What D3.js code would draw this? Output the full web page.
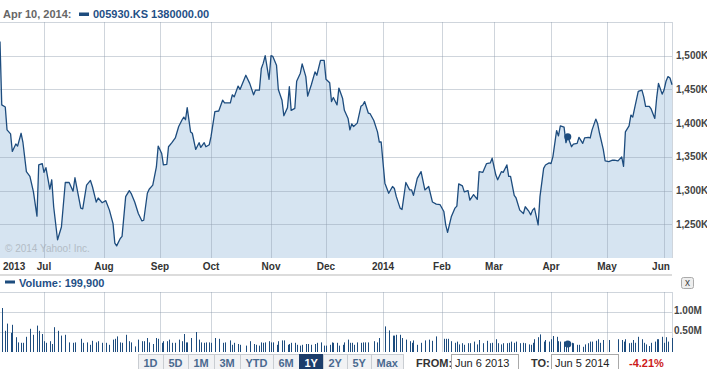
<!DOCTYPE html>
<html>
<head>
<meta charset="utf-8">
<script src="https://cdn.jsdelivr.net/npm/d3@7"></script>
<style>
  body { margin: 0; background: #fff; }
  svg { display: block; font-family: "Liberation Sans", Arial, sans-serif; }
</style>
</head>
<body>
<div id="chart"></div>
<script>
// daily closes (thousand won) and volumes (thousand shares)
const dates = [
  "2013-06-06","2013-06-07","2013-06-09","2013-06-10","2013-06-12","2013-06-13","2013-06-15","2013-06-16","2013-06-18","2013-06-19",
  "2013-06-21","2013-06-23","2013-06-25","2013-06-27","2013-06-28","2013-06-30","2013-07-01","2013-07-02","2013-07-04","2013-07-05",
  "2013-07-06","2013-07-08","2013-07-10","2013-07-12","2013-07-14","2013-07-16","2013-07-17","2013-07-20","2013-07-21","2013-07-23",
  "2013-07-25","2013-07-26","2013-07-28","2013-07-29","2013-07-31","2013-08-02","2013-08-04","2013-08-06","2013-08-07","2013-08-08",
  "2013-08-10","2013-08-11","2013-08-13","2013-08-15","2013-08-16","2013-08-18","2013-08-20","2013-08-22","2013-08-23","2013-08-25",
  "2013-08-26","2013-08-28","2013-08-30","2013-08-31","2013-09-02","2013-09-03","2013-09-05","2013-09-06","2013-09-08","2013-09-10",
  "2013-09-12","2013-09-14","2013-09-15","2013-09-16","2013-09-17","2013-09-19","2013-09-20","2013-09-22","2013-09-24","2013-09-25",
  "2013-09-27","2013-09-28","2013-09-30","2013-10-01","2013-10-03","2013-10-05","2013-10-07","2013-10-08","2013-10-11","2013-10-12",
  "2013-10-13","2013-10-15","2013-10-16","2013-10-19","2013-10-21","2013-10-23","2013-10-24","2013-10-26","2013-10-27","2013-10-28",
  "2013-10-29","2013-10-31","2013-11-01","2013-11-02","2013-11-04","2013-11-05","2013-11-07","2013-11-08","2013-11-10","2013-11-11",
  "2013-11-12","2013-11-14","2013-11-15","2013-11-17","2013-11-18","2013-11-20","2013-11-21","2013-11-23","2013-11-25","2013-11-26",
  "2013-11-28","2013-11-30","2013-12-01","2013-12-03","2013-12-04","2013-12-05","2013-12-07","2013-12-08","2013-12-10","2013-12-11",
  "2013-12-13","2013-12-14","2013-12-15","2013-12-16","2013-12-18","2013-12-20","2013-12-21","2013-12-22","2013-12-24","2013-12-25",
  "2013-12-27","2013-12-29","2013-12-30","2013-12-31","2014-01-02","2014-01-04","2014-01-06","2014-01-07","2014-01-08","2014-01-10",
  "2014-01-11","2014-01-13","2014-01-15","2014-01-16","2014-01-17","2014-01-19","2014-01-21","2014-01-23","2014-01-25","2014-01-27",
  "2014-01-29","2014-01-31","2014-02-02","2014-02-03","2014-02-04","2014-02-06","2014-02-08","2014-02-09","2014-02-10","2014-02-12",
  "2014-02-13","2014-02-15","2014-02-16","2014-02-18","2014-02-20","2014-02-21","2014-02-23","2014-02-25","2014-02-27","2014-02-28",
  "2014-03-02","2014-03-03","2014-03-05","2014-03-06","2014-03-08","2014-03-09","2014-03-10","2014-03-12","2014-03-13","2014-03-15",
  "2014-03-17","2014-03-18","2014-03-20","2014-03-21","2014-03-22","2014-03-23","2014-03-25","2014-03-26","2014-03-28","2014-03-29",
  "2014-03-31","2014-04-01","2014-04-02","2014-04-04","2014-04-05","2014-04-06","2014-04-08","2014-04-09","2014-04-10","2014-04-12",
  "2014-04-13","2014-04-15","2014-04-16","2014-04-18","2014-04-19","2014-04-21","2014-04-22","2014-04-23","2014-04-25","2014-04-26",
  "2014-04-27","2014-04-29","2014-04-30","2014-05-02","2014-05-04","2014-05-05","2014-05-07","2014-05-09","2014-05-10","2014-05-11",
  "2014-05-13","2014-05-14","2014-05-15","2014-05-16","2014-05-18","2014-05-20","2014-05-21","2014-05-22","2014-05-24","2014-05-25",
  "2014-05-27","2014-05-28","2014-05-29","2014-05-31","2014-06-01","2014-06-02","2014-06-03","2014-06-04","2014-06-05"
];
const closeK = [
  1521,1427,1424,1390,1384,1358,1369,1366,1385,1372,
  1328,1321,1298,1262,1338,1340,1327,1334,1302,1316,
  1276,1227,1246,1312,1312,1299,1319,1274,1273,1308,
  1315,1306,1283,1289,1282,1285,1271,1251,1222,1218,
  1229,1232,1291,1300,1296,1283,1266,1255,1256,1296,
  1302,1308,1335,1366,1355,1338,1339,1365,1371,1378,
  1395,1405,1409,1405,1423,1387,1385,1361,1371,1364,
  1371,1365,1368,1380,1417,1418,1434,1430,1430,1442,
  1439,1455,1450,1471,1459,1442,1449,1449,1481,1489,
  1500,1465,1500,1499,1486,1450,1434,1411,1423,1454,
  1419,1422,1462,1474,1488,1469,1440,1457,1476,1471,
  1493,1493,1465,1460,1432,1438,1427,1452,1437,1419,
  1407,1390,1399,1395,1400,1425,1427,1432,1415,1414,
  1404,1387,1372,1372,1311,1296,1306,1303,1291,1274,
  1272,1312,1301,1301,1293,1318,1328,1301,1306,1283,
  1280,1279,1269,1249,1238,1261,1274,1277,1310,1307,
  1298,1300,1286,1294,1287,1328,1327,1340,1341,1348,
  1323,1316,1328,1327,1338,1321,1321,1293,1289,1271,
  1266,1276,1269,1264,1271,1274,1249,1291,1333,1338,
  1341,1340,1350,1389,1381,1396,1394,1371,1380,1365,
  1369,1370,1379,1370,1378,1379,1378,1390,1406,1399,
  1385,1361,1344,1343,1345,1345,1344,1350,1336,1387,
  1396,1412,1409,1422,1447,1449,1439,1425,1425,1421,
  1407,1437,1459,1443,1449,1462,1469,1467,1457
];
const volumeK = [
  0,1100,530,710,480,680,370,240,230,230,
  380,580,430,660,530,450,270,230,270,200,
  620,530,410,430,240,230,240,330,230,240,
  180,280,240,270,230,230,180,310,330,390,
  240,230,430,270,240,140,310,270,270,350,
  240,200,350,330,230,270,270,310,230,230,
  310,270,450,240,240,350,0,500,310,240,
  230,240,240,230,350,330,230,240,290,180,
  230,200,180,160,270,200,180,160,240,230,
  240,270,240,240,180,270,290,290,180,200,
  230,230,180,160,180,200,200,180,200,230,
  240,160,160,180,240,230,230,160,180,240,
  310,230,230,180,240,230,240,240,240,0,
  270,240,350,0,640,540,410,410,430,430,
  350,310,270,230,290,180,230,290,310,280,
  390,0,330,330,330,270,230,260,190,220,
  180,220,220,260,190,300,220,280,220,230,
  320,220,190,220,220,230,260,230,260,220,
  230,220,190,180,230,320,370,440,260,300,
  260,320,400,380,270,260,260,230,199.9,230,
  220,180,180,130,190,220,260,260,280,320,
  230,300,0,300,0,0,320,300,260,320,
  220,230,300,230,380,320,230,190,150,230,
  260,320,320,380,230,370,260,0,350
];

const monthTicks = ["2013-07-01","2013-08-01","2013-09-01","2013-10-01","2013-11-01","2013-12-01",
  "2014-01-01","2014-02-01","2014-03-01","2014-04-01","2014-05-01","2014-06-01"];
const monthLabels = ["Jul","Aug","Sep","Oct","Nov","Dec","2014","Feb","Mar","Apr","May","Jun"];
const startLabel = "2013";
const priceTicks = [1250000, 1300000, 1350000, 1400000, 1450000, 1500000];
const volumeTicks = [500000, 1000000];
const rangeButtons = ["1D","5D","1M","3M","YTD","6M","1Y","2Y","5Y","Max"];
const activeRange = "1Y";
const symbol = "005930.KS";
const hoverDate = "2014-04-10";
const fromText = "Jun 6 2013";
const toText = "Jun 5 2014";
const changePct = -4.21;

const width = 707, height = 369;
const plotRight = 672;
const priceTop = 22, priceBottom = 258;
const volTop = 292, volBottom = 352;
const blue = '#1d4c7e';
const gridColor = 'rgba(140,155,172,0.42)';

const parse = d3.timeParse('%Y-%m-%d');
const data = dates.map((d, i) => ({ date: parse(d), close: closeK[i] * 1000, volume: volumeK[i] * 1000 }));
const tickDates = monthTicks.map(parse);
const hover = data.find(d => d.date.getTime() === parse(hoverDate).getTime());

const svg = d3.select('#chart')
  .append('svg')
  .attr('width', width)
  .attr('height', height);

// months are spaced by trading days on the Yahoo axis, so the domain is piecewise
const x = d3.scaleTime()
  .domain([data[0].date, ...tickDates, data[data.length - 1].date])
  .range([0, 44, 104, 160, 211, 271, 326, 383, 442, 494, 551, 607, 664, plotRight]);

const y = d3.scaleLinear()
  .domain([1200000, 1550000])
  .range([priceBottom, priceTop]);

const yv = d3.scaleLinear()
  .domain([0, 1500000])
  .range([volBottom, volTop]);

// header
svg.append('text')
  .attr('x', 3).attr('y', 18)
  .style('font-size', '11px').style('font-weight', 'bold').style('fill', '#666')
  .text(d3.timeFormat('%b %-d, %Y:')(hover.date));
svg.append('rect')
  .attr('x', 79).attr('y', 12.5).attr('width', 10).attr('height', 3.5)
  .attr('fill', blue);
svg.append('text')
  .attr('x', 93).attr('y', 18)
  .style('font-size', '11px').style('font-weight', 'bold').style('fill', '#1f4f86')
  .text(symbol + ' ' + d3.format('.2f')(hover.close));

// price area
svg.append('path')
  .datum(data)
  .attr('fill', '#d6e4f1')
  .attr('d', d3.area().x(d => x(d.date)).y0(priceBottom).y1(d => y(d.close)));

svg.append('text')
  .attr('x', 5).attr('y', 252)
  .style('font-size', '10px').style('fill', '#b3bcc6')
  .text('\u00a9 2014 Yahoo! Inc.');

// grid
const grid = svg.append('g').attr('stroke', gridColor).attr('shape-rendering', 'crispEdges');
grid.selectAll('.hgrid')
  .data(priceTicks.concat([1550000]))
  .enter().append('line')
  .attr('x1', 0).attr('x2', plotRight)
  .attr('y1', d => Math.round(y(d)) + 0.5).attr('y2', d => Math.round(y(d)) + 0.5);
grid.selectAll('.vgrid')
  .data(tickDates.concat([data[data.length - 1].date]))
  .enter().append('line')
  .attr('x1', d => Math.round(x(d)) + 0.5).attr('x2', d => Math.round(x(d)) + 0.5)
  .attr('y1', priceTop).attr('y2', priceBottom);

// price line
svg.append('path')
  .datum(data)
  .attr('fill', 'none')
  .attr('stroke', blue)
  .attr('stroke-width', 1.3)
  .attr('stroke-linejoin', 'round')
  .attr('d', d3.line().x(d => x(d.date)).y(d => y(d.close)));

svg.append('circle')
  .attr('cx', x(hover.date)).attr('cy', y(hover.close)).attr('r', 3.5)
  .attr('fill', blue);

// y axis labels
svg.selectAll('.plabel')
  .data(priceTicks)
  .enter().append('text')
  .attr('x', 676).attr('y', d => y(d)).attr('dy', '.35em')
  .style('font-size', '10px').style('font-weight', 'bold').style('fill', '#444')
  .text(d => d3.format(',')(d / 1000) + 'K');

// x axis labels
svg.append('text')
  .attr('x', 3).attr('y', 270)
  .style('font-size', '10px').style('font-weight', 'bold').style('fill', '#333')
  .text(startLabel);
svg.selectAll('.xlabel')
  .data(tickDates)
  .enter().append('text')
  .attr('x', d => Math.min(x(d), plotRight - 11)).attr('y', 270)
  .style('text-anchor', 'middle')
  .style('font-size', '10px').style('font-weight', 'bold').style('fill', '#333')
  .text((d, i) => monthLabels[i]);

svg.append('rect')
  .attr('x', 0).attr('y', 274).attr('width', plotRight).attr('height', 2)
  .attr('fill', '#dcdcdc');

// volume header
svg.append('rect')
  .attr('x', 5).attr('y', 280.5).attr('width', 10).attr('height', 3)
  .attr('fill', blue);
svg.append('text')
  .attr('x', 19).attr('y', 287)
  .style('font-size', '11px').style('font-weight', 'bold').style('fill', '#1f4f86')
  .text('Volume: ' + d3.format(',')(hover.volume));

const closeBtn = svg.append('g').attr('transform', 'translate(681,277)');
closeBtn.append('rect')
  .attr('x', 0.5).attr('y', 0.5).attr('width', 12).attr('height', 11).attr('rx', 2)
  .attr('fill', '#eee').attr('stroke', '#aaa');
closeBtn.append('text')
  .attr('x', 6.5).attr('y', 9)
  .style('text-anchor', 'middle').style('font-size', '10px').style('fill', '#444')
  .text('x');

// volume grid
const vgrid = svg.append('g').attr('stroke', gridColor).attr('shape-rendering', 'crispEdges');
vgrid.selectAll('.hgrid')
  .data(volumeTicks.concat([1500000]))
  .enter().append('line')
  .attr('x1', 0).attr('x2', plotRight)
  .attr('y1', d => Math.round(yv(d)) + 0.5).attr('y2', d => Math.round(yv(d)) + 0.5);
vgrid.selectAll('.vgrid')
  .data(tickDates.concat([data[data.length - 1].date]))
  .enter().append('line')
  .attr('x1', d => Math.round(x(d)) + 0.5).attr('x2', d => Math.round(x(d)) + 0.5)
  .attr('y1', volTop).attr('y2', volBottom);

// volume bars
svg.selectAll('.vbar')
  .data(data.filter(d => d.volume > 0))
  .enter().append('rect')
  .attr('x', d => Math.round(x(d.date)))
  .attr('y', d => yv(d.volume))
  .attr('width', 1)
  .attr('height', d => volBottom - yv(d.volume))
  .attr('fill', blue);

svg.append('circle')
  .attr('cx', x(hover.date)).attr('cy', yv(hover.volume)).attr('r', 3.5)
  .attr('fill', blue);

svg.selectAll('.vlabel')
  .data(volumeTicks)
  .enter().append('text')
  .attr('x', 674).attr('y', d => yv(d) - 2).attr('dy', '.35em')
  .style('font-size', '10px').style('font-weight', 'bold').style('fill', '#444')
  .text(d => d3.format('.2f')(d / 1e6) + 'M');

// range buttons
let bx = 138;
rangeButtons.forEach(label => {
  const active = label === activeRange;
  const g = svg.append('g').attr('transform', `translate(${bx},354)`);
  const r = g.append('rect')
    .attr('x', 0.5).attr('y', 0.5).attr('height', 18)
    .attr('fill', active ? '#1c3d6b' : '#f1f2f4')
    .attr('stroke', active ? '#1c3d6b' : '#c9cdd2');
  const t = g.append('text')
    .attr('y', 12.5)
    .style('font-size', '11px').style('font-weight', 'bold')
    .style('fill', active ? '#fff' : '#4a6a90')
    .text(label);
  const w = Math.round(t.node().getComputedTextLength()) + 11;
  r.attr('width', w);
  t.attr('x', 5.5);
  bx += w;
});

// date range
svg.append('text')
  .attr('x', 416).attr('y', 366.5)
  .style('font-size', '11px').style('font-weight', 'bold').style('fill', '#333')
  .text('FROM:');
svg.append('rect')
  .attr('x', 451.5).attr('y', 354.5).attr('width', 67).attr('height', 18)
  .attr('fill', '#fff').attr('stroke', '#a9a9a9');
svg.append('text')
  .attr('x', 455).attr('y', 366.5)
  .style('font-size', '11px').style('fill', '#222')
  .text(fromText);
svg.append('text')
  .attr('x', 531).attr('y', 366.5)
  .style('font-size', '11px').style('font-weight', 'bold').style('fill', '#333')
  .text('TO:');
svg.append('rect')
  .attr('x', 551.5).attr('y', 354.5).attr('width', 67).attr('height', 18)
  .attr('fill', '#fff').attr('stroke', '#a9a9a9');
svg.append('text')
  .attr('x', 555).attr('y', 366.5)
  .style('font-size', '11px').style('fill', '#222')
  .text(toText);
// plain hyphen minus, as in the original
svg.append('text')
  .attr('x', 629).attr('y', 366.5)
  .style('font-size', '11px').style('font-weight', 'bold').style('fill', '#cc1a1a')
  .text(changePct.toFixed(2) + '%');
</script>
</body>
</html>
